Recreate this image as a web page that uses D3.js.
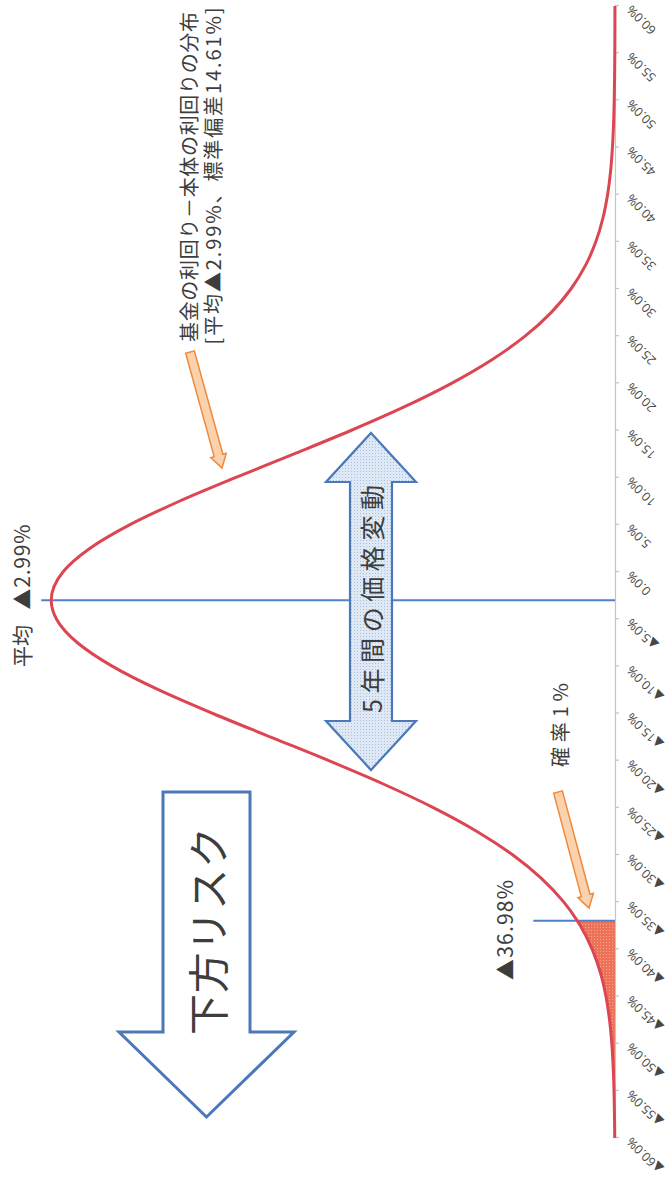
<!DOCTYPE html>
<html lang="ja">
<head>
<meta charset="utf-8">
<script src="https://cdn.jsdelivr.net/npm/d3@7"></script>
<style>
  html, body { margin: 0; padding: 0; background: #fff; }
  svg { display: block; }
</style>
</head>
<body>
<div id="chart"></div>
<script>
// Return distribution of (fund yield − core yield): mean ▲2.99%, s.d. 14.61%
const returns = [-60, -57.5, -55, -52.5, -50, -47.5, -45, -42.5, -40, -37.5, -36.98,
  -35, -32.5, -30, -27.5, -25, -22.5, -20, -17.5, -15, -12.5, -10, -7.5, -5, -2.99,
  0, 2.5, 5, 7.5, 10, 12.5, 15, 17.5, 20, 22.5, 25, 27.5, 30, 32.5, 35, 37.5, 40,
  42.5, 45, 47.5, 50, 52.5, 55, 57.5, 60];
const density = [0.0013, 0.0026, 0.0048, 0.0088, 0.0154, 0.0264, 0.0437, 0.0705, 0.1104, 0.1677, 0.1824,
  0.2477, 0.3553, 0.4946, 0.6686, 0.8780, 1.1197, 1.3865, 1.6678, 1.9480, 2.2097, 2.4342, 2.6040, 2.7053, 2.7310,
  2.6745, 2.5447, 2.3517, 2.1105, 1.8393, 1.5570, 1.2797, 1.0214, 0.7920, 0.5961, 0.4358, 0.3095, 0.2135, 0.1429, 0.0930, 0.0587, 0.0360,
  0.0214, 0.0124, 0.0070, 0.0038, 0.0020, 0.0010, 0.0005, 0.0003];
const tickValues = [-60, -55, -50, -45, -40, -35, -30, -25, -20, -15, -10, -5, 0,
  5, 10, 15, 20, 25, 30, 35, 40, 45, 50, 55, 60];
const meanReturn = -2.99;
const stdDev = 14.61;
const varReturn = -36.98;   // 1% probability threshold

const W = 670, H = 1186;
const JP = "'Noto Sans CJK JP', 'Noto Sans', sans-serif";
const TXT = "#3d3d3d";

const svg = d3.select("#chart").append("svg")
  .attr("width", W).attr("height", H)
  .attr("viewBox", `0 0 ${W} ${H}`);

const defs = svg.append("defs");
// halftone-like textures for the filled shapes
const pBlue = defs.append("pattern").attr("id", "dotBlue")
  .attr("width", 3).attr("height", 3).attr("patternUnits", "userSpaceOnUse");
pBlue.append("rect").attr("width", 3).attr("height", 3).attr("fill", "#dfe9f6");
pBlue.append("rect").attr("width", 1).attr("height", 1).attr("fill", "#a9bfdf");
const pRed = defs.append("pattern").attr("id", "dotRed")
  .attr("width", 3).attr("height", 3).attr("patternUnits", "userSpaceOnUse");
pRed.append("rect").attr("width", 3).attr("height", 3).attr("fill", "#ee7258");
pRed.append("rect").attr("width", 1).attr("height", 1).attr("fill", "#f6a994");

svg.append("rect").attr("width", W).attr("height", H).attr("fill", "#fff");

// The chart is laid out as an ordinary horizontal chart and turned a quarter turn.
const g = svg.append("g").attr("transform", `translate(0,${H}) rotate(-90)`);

const x = d3.scaleLinear().domain([-60, 60]).range([48, 1180]);
const y = d3.scaleLinear().domain([0, 2.8]).range([615, 37]);

const data = returns.map((r, i) => ({ r, d: density[i] }));

// shaded lower tail (probability 1%)
const tail = data.filter(p => p.r <= varReturn);
g.append("path")
  .datum(tail)
  .attr("fill", "url(#dotRed)")
  .attr("d", d3.area().x(p => x(p.r)).y0(y(0)).y1(p => y(p.d)).curve(d3.curveMonotoneX));

// axis
const axis = d3.axisBottom(x)
  .tickValues(tickValues)
  .tickSize(4)
  .tickFormat(v => (v < 0 ? "▲" : "") + Math.abs(v).toFixed(1) + "%");
const ax = g.append("g").attr("transform", `translate(0,${y(0)})`).call(axis);
ax.select(".domain").attr("stroke", "#c4c4c4").attr("stroke-width", 1.2);
ax.selectAll(".tick line").attr("stroke", "#c4c4c4").attr("stroke-width", 1.2);
ax.selectAll(".tick text")
  .attr("x", 0).attr("y", 0).attr("dy", 0)
  .attr("text-anchor", "end")
  .attr("transform", "translate(1,17) rotate(-45)")
  .attr("fill", "#474747")
  .attr("font-family", "'Open Sans', 'DejaVu Sans', sans-serif")
  .attr("font-size", 12.5);

// reference lines: mean and 1% threshold
const dVar = data.find(p => p.r === varReturn).d;
const dMean = data.find(p => p.r === meanReturn).d;
g.append("line")
  .attr("x1", x(meanReturn)).attr("x2", x(meanReturn))
  .attr("y1", y(0)).attr("y2", y(dMean) - 10)
  .attr("stroke", "#4f80c8").attr("stroke-width", 2);
g.append("line")
  .attr("x1", x(varReturn)).attr("x2", x(varReturn))
  .attr("y1", y(0)).attr("y2", y(dVar) - 44)
  .attr("stroke", "#4f80c8").attr("stroke-width", 2);

// density curve
g.append("path")
  .datum(data)
  .attr("fill", "none")
  .attr("stroke", "#dc4652")
  .attr("stroke-width", 3)
  .attr("stroke-linejoin", "round")
  .attr("d", d3.line().x(p => x(p.r)).y(p => y(p.d)).curve(d3.curveMonotoneX));

// ---- annotations (page coordinates) ----
const ann = svg.append("g");

function blockArrow(x1, y1, x2, y2, sw, hw, hl) {
  const dx = x2 - x1, dy = y2 - y1, L = Math.hypot(dx, dy);
  const ux = dx / L, uy = dy / L, px = -uy, py = ux;
  const bx = x2 - ux * hl, by = y2 - uy * hl;
  const pts = [
    [x1 + px * sw / 2, y1 + py * sw / 2],
    [bx + px * sw / 2, by + py * sw / 2],
    [bx + px * hw / 2, by + py * hw / 2],
    [x2, y2],
    [bx - px * hw / 2, by - py * hw / 2],
    [bx - px * sw / 2, by - py * sw / 2],
    [x1 - px * sw / 2, y1 - py * sw / 2]
  ];
  return "M" + pts.map(p => p.join(",")).join("L") + "Z";
}

// callout arrows
ann.append("path").attr("d", blockArrow(190, 352, 222, 468, 9, 16, 13))
  .attr("fill", "#fbd2ae").attr("stroke", "#ef8a3c").attr("stroke-width", 1.5).attr("stroke-linejoin", "miter");
ann.append("path").attr("d", blockArrow(558, 792, 589, 908, 9, 16, 13))
  .attr("fill", "#fbd2ae").attr("stroke", "#ef8a3c").attr("stroke-width", 1.5).attr("stroke-linejoin", "miter");

// double-headed arrow: 5-year price movement
{
  const cx = 371, top = 433, bot = 770, sh = 21, hh = 45, hl = 49;
  const d = `M${cx},${top}L${cx + hh},${top + hl}L${cx + sh},${top + hl}L${cx + sh},${bot - hl}` +
    `L${cx + hh},${bot - hl}L${cx},${bot}L${cx - hh},${bot - hl}L${cx - sh},${bot - hl}` +
    `L${cx - sh},${top + hl}L${cx - hh},${top + hl}Z`;
  ann.append("path").attr("d", d).attr("fill", "url(#dotBlue)")
    .attr("stroke", "#4a78b8").attr("stroke-width", 2.2).attr("stroke-linejoin", "miter");
}

// downside-risk arrow
{
  const cx = 206.5, top = 792, base = 1032, tip = 1117, sh = 43.5, hh = 87.5;
  const d = `M${cx - sh},${top}L${cx + sh},${top}L${cx + sh},${base}L${cx + hh},${base}` +
    `L${cx},${tip}L${cx - hh},${base}L${cx - sh},${base}Z`;
  ann.append("path").attr("d", d).attr("fill", "#fff")
    .attr("stroke", "#4a78b8").attr("stroke-width", 3).attr("stroke-linejoin", "miter");
}

function vText(cx, cy, str, size, len) {
  const t = ann.append("text")
    .attr("transform", `translate(${cx},${cy}) rotate(-90)`)
    .attr("text-anchor", "middle")
    .attr("dominant-baseline", "central")
    .attr("font-family", JP)
    .attr("font-size", size)
    .attr("fill", TXT)
    .text(str);
  if (len) t.attr("textLength", len).attr("lengthAdjust", "spacing");
  return t;
}

vText(188, 177, "基金の利回り－本体の利回りの分布", 20, 330);
vText(212, 176, `[平均▲${Math.abs(meanReturn).toFixed(2)}%、標準偏差${stdDev.toFixed(2)}%]`, 20, 337);
vText(21, 646, "平均", 21);
vText(21, 567, `▲${Math.abs(meanReturn).toFixed(2)}%`, 21, 85);
vText(371, 599, "5年間の価格変動", 25, 228);
vText(206, 931, "下方リスク", 41, 208);
vText(559, 725, "確率1%", 20, 84);
vText(504, 930, `▲${Math.abs(varReturn).toFixed(2)}%`, 21, 100);
</script>
</body>
</html>
